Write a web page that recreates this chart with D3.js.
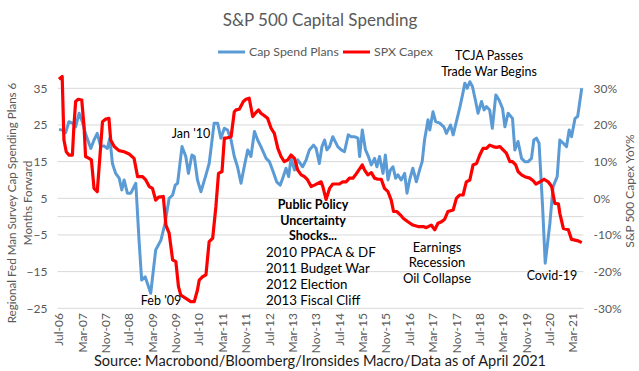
<!DOCTYPE html>
<html>
<head>
<meta charset="utf-8">
<script src="https://cdn.jsdelivr.net/npm/d3@7"></script>
<style>
  body { margin: 0; background: #fff; }
  svg text { font-family: Lato, "Noto Sans", sans-serif; }
</style>
</head>
<body>
<svg id="chart" width="639" height="371"></svg>
<script>
// months counted from Jul-06 (0 = Jul-06)
const capMonths = [0,1.1,2.3,3.4,4.6,5.7,6.9,8,9.1,10.9,12,13.1,14.3,15.4,16.6,17.4,18.3,19.4,20.6,21.5,22.3,23.4,24.6,26.3,27.4,28.3,29.5,31.4,33.1,34.9,36.3,37.7,38.9,39.8,40.6,42.1,43.4,44.3,45.5,46.3,47.4,48.6,50.3,51.4,53.1,54.3,55.4,56.6,57.7,58.9,60,61.1,62.3,63.4,64.6,65.7,66.9,68,69.1,70.9,72,73.1,74.5,75.7,76.6,77.7,78.6,79.4,80.6,81.7,83.4,84.6,85.7,87.1,88,89.1,90,90.9,91.7,92.6,93.7,95.4,96.6,97.7,99,100,101.1,102.3,102.9,103.8,104.9,105.7,106.9,108,108.8,109.7,110.9,111.7,112.6,113.4,114.3,115.2,116,117.1,118.3,119.1,120,121.1,122.3,123.4,124.3,125.1,126.3,126.9,128,128.9,130.3,131.7,132.6,134,134.9,136,137.1,138.1,138.9,139.7,140.6,141.5,142.6,143.4,144.6,145.5,146.3,147.4,148.3,149.5,150.6,151.8,152.6,153.7,155.2,156,157.1,158.3,159.4,160.6,161.7,162.5,163.4,164.3,165.5,166.4,168,169.1,170.5,171.4,172.6,173.7,174.6,175.4,176.6,177.5,178.9];
const capPlans = [23.8,23.6,22.9,25.9,25.5,24.5,28.2,25.9,22.6,18.6,20.9,22.7,19.1,19.3,18.6,21.4,14.5,11.8,10.5,7.3,10,6.4,6.4,9.1,-6.4,-17.3,-16.4,-20.9,-9.1,-6.4,-1.8,5,5.9,8.6,9.1,19.1,16.4,11.8,16.8,16.4,10,6.8,11.4,14.5,25.5,25.5,21.4,24.1,23.6,20.9,16.4,13.6,9.1,13.6,18.2,16.4,23.2,20.9,19.1,15.9,15,12.7,9.5,8.6,10.5,13.2,10.9,15.9,12.7,15.5,13.6,15.5,18.2,19.5,18.6,14.5,19.1,20.9,18.2,19.1,21.8,19.1,18.2,17.7,22.3,21.8,21.8,21.4,16.4,23.6,18.2,16.8,14.1,15.9,13.6,16.4,11.8,16.8,10,12.7,13.6,10.5,11.4,10,11.8,6.4,10,13.2,9.5,12.7,15,20.9,26.4,23.6,28.6,25.9,25.5,24.5,22.7,25,22.3,25.9,29.5,33.2,36.4,35,36.8,35.5,31.4,28.2,31.4,29.1,30,29.1,24.1,33.2,31.8,29.5,24.5,28.2,26.8,18.2,20.5,15.9,15,15,15.9,20.9,21.4,20,2.7,-12.7,-1.8,8.2,10.9,20.9,20,19.1,23.6,21.8,26.8,27.3,35];

const capexMonths = [0,1.1,1.7,2.5,3.4,4.6,5.1,5.7,6.6,7.8,8.6,9.1,10.3,11.1,12,13.1,14.1,14.9,16,17.1,17.7,18.9,20.6,22.3,24,25.7,26.9,28.6,29.7,30.9,32,33.1,34.1,35.7,36.6,37.7,38.9,40,40.9,41.7,43.4,45.1,46.3,47.4,48,49.1,50.3,50.9,51.4,52.6,53.7,54.6,55.8,56.6,57.1,58.9,60,60.6,61.7,63.1,64,65.1,66.3,67.2,68.3,69.1,70.3,71.4,72.6,73.7,74.9,76,77.1,78.3,79.4,80.6,81.7,82.9,84,85.1,86.3,87.4,89.7,90.3,91.4,92.6,93.7,96,97.1,98.3,99.4,100.6,101.5,102.6,103.8,104.6,105.7,106.9,108,109.1,110.3,111.4,112.6,113.7,114.5,115.6,116.8,117.9,119.4,121.1,122.9,124.6,125.7,127.4,128.6,129.7,130.9,132,133.1,134.9,136,137.1,138.3,139.4,140.6,141.7,142.9,144,145.1,146.3,147.4,148.6,149.7,150.9,152,153.1,154.3,155.2,156.3,157.1,158.3,159.4,161.1,162.3,163.2,164.6,166,167.4,168.6,169.7,170.9,171.4,172.6,174.3,175.4,176.6,177.7,178.9];
const spxCapex = [32.5,33.2,15.9,12.7,11.8,11.8,19.5,26.4,27,26.8,19.5,11.4,10.9,10.5,2.7,1.8,12.3,20.9,21.6,21.8,15.9,14.1,13,12.7,12.1,10.9,5.9,5.9,5,3.2,2.7,-0.5,0.3,0.5,-7.3,-9.5,-16.8,-17.3,-24.1,-26.4,-27.3,-28.2,-28.2,-25,-22.3,-21.4,-20.9,-15.9,-11.8,-10.9,-2.3,6.8,7.3,16.4,16.4,16.8,23.6,24.1,24.3,26.4,27,27.3,22.3,23.2,24.1,23.2,22.5,21.8,19.1,17.7,13.6,11.4,10,10.5,11.8,10.9,7.7,6.4,5.9,5,3.2,3.6,4.5,3.2,-0.3,2.7,3.9,3.9,4.5,4.5,5.5,5.5,6.4,7.7,9.1,7.7,6.4,7,5.5,5.2,5.2,2.7,1.8,-0.5,-3.6,-3.6,-4.5,-5.5,-6.4,-7.3,-7.7,-7.7,-8,-7.3,-8.6,-6.8,-6.4,-5.7,-3.6,-3.2,0,0.9,0.9,4.5,5,9.1,9.5,11.8,13.6,13.6,14.5,14.1,13.9,14.1,13.2,12.3,10,10,9.1,7.3,6.4,5.9,5.5,4.8,3.9,4.5,5.2,4.5,3.2,-1.4,-1.5,-4.1,-8.2,-8.6,-11.2,-11.4,-11.6,-12.1];

const xLabels = ["Jul-06","Mar-07","Nov-07","Jul-08","Mar-09","Nov-09","Jul-10","Mar-11","Nov-11","Jul-12","Mar-13","Nov-13","Jul-14","Mar-15","Nov-15","Jul-16","Mar-17","Nov-17","Jul-18","Mar-19","Nov-19","Jul-20","Mar-21"];
const leftTicks = [-25, -15, -5, 5, 15, 25, 35];
const rightTicks = [-30, -20, -10, 0, 10, 20, 30];

const svg = d3.select("#chart");

const x = d3.scaleLinear().domain([-0.5, 179.5]).range([57.5, 583.5]);
const yL = d3.scaleLinear().domain([-25, 35]).range([308.3, 88.3]);
const yR = d3.scaleLinear().domain([-30, 30]).range([308.3, 88.3]);

const grey = "#595959";

// gridlines (+ the horizontal axis line at 0)
svg.append("g").selectAll("line")
  .data(leftTicks.concat([0]))
  .join("line")
  .attr("x1", x.range()[0]).attr("x2", x.range()[1])
  .attr("y1", d => yL(d)).attr("y2", d => yL(d))
  .attr("stroke", "#d9d9d9").attr("stroke-width", 1);

// left axis
const leftAxis = d3.axisLeft(yL).tickValues(leftTicks).tickSize(0).tickPadding(10);
const gL = svg.append("g").attr("transform", `translate(${x.range()[0]},0)`).call(leftAxis);
gL.select(".domain").remove();
gL.selectAll("text").attr("fill", grey).style("font-size", "12px");

// right axis
const rightAxis = d3.axisRight(yR).tickValues(rightTicks).tickSize(0).tickPadding(10)
  .tickFormat(d => d + "%");
const gR = svg.append("g").attr("transform", `translate(${x.range()[1]},0)`).call(rightAxis);
gR.select(".domain").remove();
gR.selectAll("text").attr("fill", grey).style("font-size", "12px");

// x labels (rotated)
svg.append("g").selectAll("text")
  .data(xLabels)
  .join("text")
  .attr("transform", (d, i) => `translate(${x(i * 8)},313) rotate(-90)`)
  .attr("dy", "0.35em")
  .attr("text-anchor", "end")
  .attr("fill", grey)
  .style("font-size", "12px")
  .text(d => d);

// lines
const capLine = d3.line().x((d, i) => x(capMonths[i])).y(d => yL(d));
const spxLine = d3.line().x((d, i) => x(capexMonths[i])).y(d => yR(d));

svg.append("path").datum(capPlans)
  .attr("d", capLine)
  .attr("fill", "none").attr("stroke", "#5b9bd5").attr("stroke-width", 3)
  .attr("stroke-linejoin", "round");
svg.append("path").datum(spxCapex)
  .attr("d", spxLine)
  .attr("fill", "none").attr("stroke", "#ff0000").attr("stroke-width", 3.2)
  .attr("stroke-linejoin", "round");

// title
svg.append("text").attr("x", 320).attr("y", 26).attr("text-anchor", "middle")
  .attr("fill", grey).style("font-size", "17px").text("S&P 500 Capital Spending");

// legend
const legend = [
  { name: "Cap Spend Plans", color: "#5b9bd5", x: 218 },
  { name: "SPX Capex", color: "#ff0000", x: 343 }
];
const lg = svg.append("g").selectAll("g").data(legend).join("g")
  .attr("transform", d => `translate(${d.x},52)`);
lg.append("line").attr("x1", 0).attr("x2", 27).attr("stroke", d => d.color).attr("stroke-width", 3);
lg.append("text").attr("x", 31).attr("dy", "0.35em").attr("fill", grey)
  .style("font-size", "12.3px").text(d => d.name);

// axis titles
svg.append("text")
  .attr("transform", "translate(16,203) rotate(-90)")
  .attr("text-anchor", "middle").attr("fill", grey).style("font-size", "11.6px")
  .selectAll("tspan")
  .data(["Regional Fed Man Survey Cap Spending Plans 6", "Months Forward"])
  .join("tspan")
  .attr("x", 0).attr("dy", (d, i) => i === 0 ? 0 : 16)
  .text(d => d);

svg.append("text")
  .attr("transform", "translate(634,191) rotate(-90)")
  .attr("text-anchor", "middle").attr("fill", grey).style("font-size", "12px")
  .text("S&P 500 Capex YoY%");

// annotations
function note(lines, cx, y0, step, opts = {}) {
  const t = svg.append("text")
    .attr("text-anchor", opts.anchor || "middle")
    .attr("fill", "#000")
    .style("font-size", opts.size || "12.5px")
    .style("font-weight", opts.bold ? "bold" : "normal");
  t.selectAll("tspan").data(lines).join("tspan")
    .attr("x", cx).attr("y", (d, i) => y0 + i * step).text(d => d);
}
note(["Jan '10"], 191, 138, 0);
note(["Feb '09"], 161, 305, 0);
note(["Public Policy", "Uncertainty", "Shocks..."], 313, 209, 15.7, { bold: true });
note(["2010 PPACA & DF", "2011 Budget War", "2012 Election", "2013 Fiscal Cliff"], 266, 257, 16, { anchor: "start", size: "13.3px" });
note(["Earnings", "Recession", "Oil Collapse"], 437, 252, 15.3, { size: "13px" });
note(["TCJA Passes", "Trade War Begins"], 489, 60, 15.7);
note(["Covid-19"], 552, 280, 0);

// source
svg.append("text").attr("x", 320).attr("y", 366).attr("text-anchor", "middle")
  .attr("fill", "#1a1a1a").style("font-size", "14.6px")
  .text("Source: Macrobond/Bloomberg/Ironsides Macro/Data as of April 2021");
</script>
</body>
</html>
